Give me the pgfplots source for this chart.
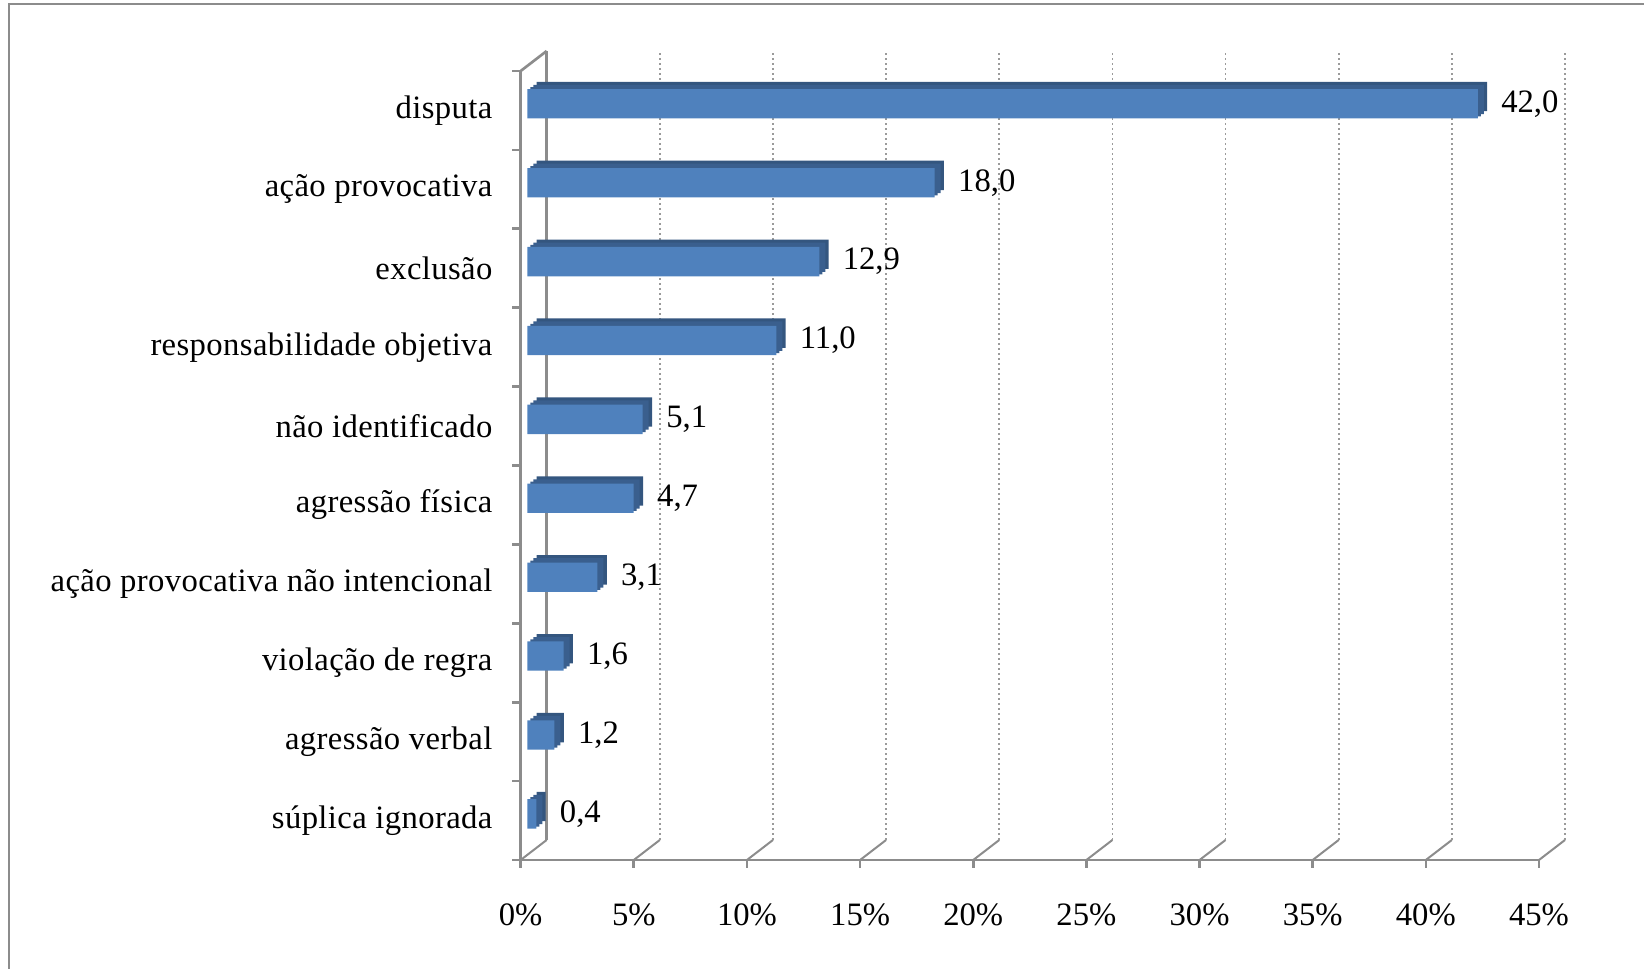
\documentclass[border=0pt]{standalone}
\usepackage{pgfplots}
\pgfplotsset{compat=1.18}
\usepackage{pgfplotstable}
\usepackage{fontspec}
\setmainfont{Liberation Serif}
\newfontfamily\catfont[LetterSpace=1.2]{Liberation Serif}
\definecolor{barfront}{HTML}{4F81BD}
\definecolor{bardark}{HTML}{3A5F8E}
\definecolor{barside}{HTML}{34567F}
\definecolor{axgray}{HTML}{8C8C8C}
\definecolor{gridgray}{HTML}{9A9A9A}

\pgfplotstableread{
y v
9 42.0
8 18.0
7 12.9
6 11.0
5 5.1
4 4.7
3 3.1
2 1.6
1 1.2
0 0.4
}\datatable

\begin{document}
\fontsize{9.8}{11.8}\selectfont
\begin{tikzpicture}
\useasboundingbox (0,0) rectangle (493.2pt,-290.7pt);
\begin{scope}
\clip (0,0) rectangle (493.2pt,-290.7pt);
\draw[axgray, line width=0.7pt] (2.7pt,-1.2pt) rectangle (500pt,-300pt);
\end{scope}
\begin{axis}[
  at={(156.2pt,-258pt)}, anchor=south west,
  scale only axis, width=305.5pt, height=236.7pt,
  xmin=0, xmax=45, ymin=-0.5, ymax=9.5,
  clip=false,
  axis lines*=left,
  axis line style={axgray, line width=0.8pt},
  tick align=outside,
  major tick length=2.4pt,
  xtick={0,5,...,45},
  xtick style={axgray, line width=0.8pt},
  xticklabel={\pgfmathprintnumber{\tick}\%},
  xticklabel style={yshift=-7.2pt},
  ytick={0,...,9},
  ytick style={draw=none},
  yticklabels={súplica ignorada, agressão verbal, violação de regra, ação provocativa não intencional, agressão física, não identificado, responsabilidade objetiva, exclusão, ação provocativa, disputa},
  yticklabel style={xshift=-2.6pt, font=\catfont\fontsize{9.8}{11.8}\selectfont},
  /pgf/number format/assume math mode=true,
  xticklabel style={font=\fontsize{9.8}{11.8}\selectfont},
]
% back wall and grid
\draw[axgray, line width=0.8pt] ([xshift=7.8pt,yshift=6pt]axis cs:0,-0.5) -- ([xshift=7.8pt,yshift=6pt]axis cs:0,9.5);
\draw[axgray, line width=0.8pt] (axis cs:0,9.5) -- ([xshift=7.8pt,yshift=6pt]axis cs:0,9.5);
\pgfplotsinvokeforeach{0,5,10,15,20,25,30,35,40,45}{
  \draw[axgray, line width=0.6pt] (axis cs:#1,-0.5) -- ([xshift=7.8pt,yshift=6pt]axis cs:#1,-0.5);
}
\pgfplotsinvokeforeach{5,10,15,20,25,30,35,40,45}{
  \draw[gridgray, line width=0.5pt, densely dotted] ([xshift=7.8pt,yshift=6pt]axis cs:#1,-0.5) -- ([xshift=7.8pt,yshift=6pt]axis cs:#1,9.5);
}
% left boundary ticks
\pgfplotsinvokeforeach{-0.5,0.5,1.5,2.5,3.5,4.5,5.5,6.5,7.5,8.5,9.5}{
  \draw[axgray, line width=0.8pt] (axis cs:0,#1) -- ([xshift=-2.7pt]axis cs:0,#1);
}
% 3D depth of bars (stepped to mimic the bevel)
\addplot[xbar, bar shift=0pt, bar width=8.8pt, fill=barside, draw=none, xshift=4.8pt, yshift=4.2pt]
  table[x=v, y=y] {\datatable};
\addplot[xbar, bar shift=0pt, bar width=8.8pt, fill=bardark, draw=none, xshift=3.8pt, yshift=3.3pt]
  table[x=v, y=y] {\datatable};
\addplot[xbar, bar shift=0pt, bar width=8.8pt, fill=bardark, draw=none, xshift=2.9pt, yshift=2.6pt]
  table[x=v, y=y] {\datatable};
% front face
\addplot[xbar, bar shift=0pt, bar width=8.8pt, fill=barfront, draw=none, xshift=2pt, yshift=2pt,
  point meta=x,
  nodes near coords={\pgfmathprintnumber[fixed,fixed zerofill,precision=1,use comma]{\pgfplotspointmeta}},
  every node near coord/.append style={anchor=west, xshift=3.6pt, text=black, font=\fontsize{9.8}{11.8}\selectfont}]
  table[x=v, y=y] {\datatable};
\end{axis}
\end{tikzpicture}
\end{document}
